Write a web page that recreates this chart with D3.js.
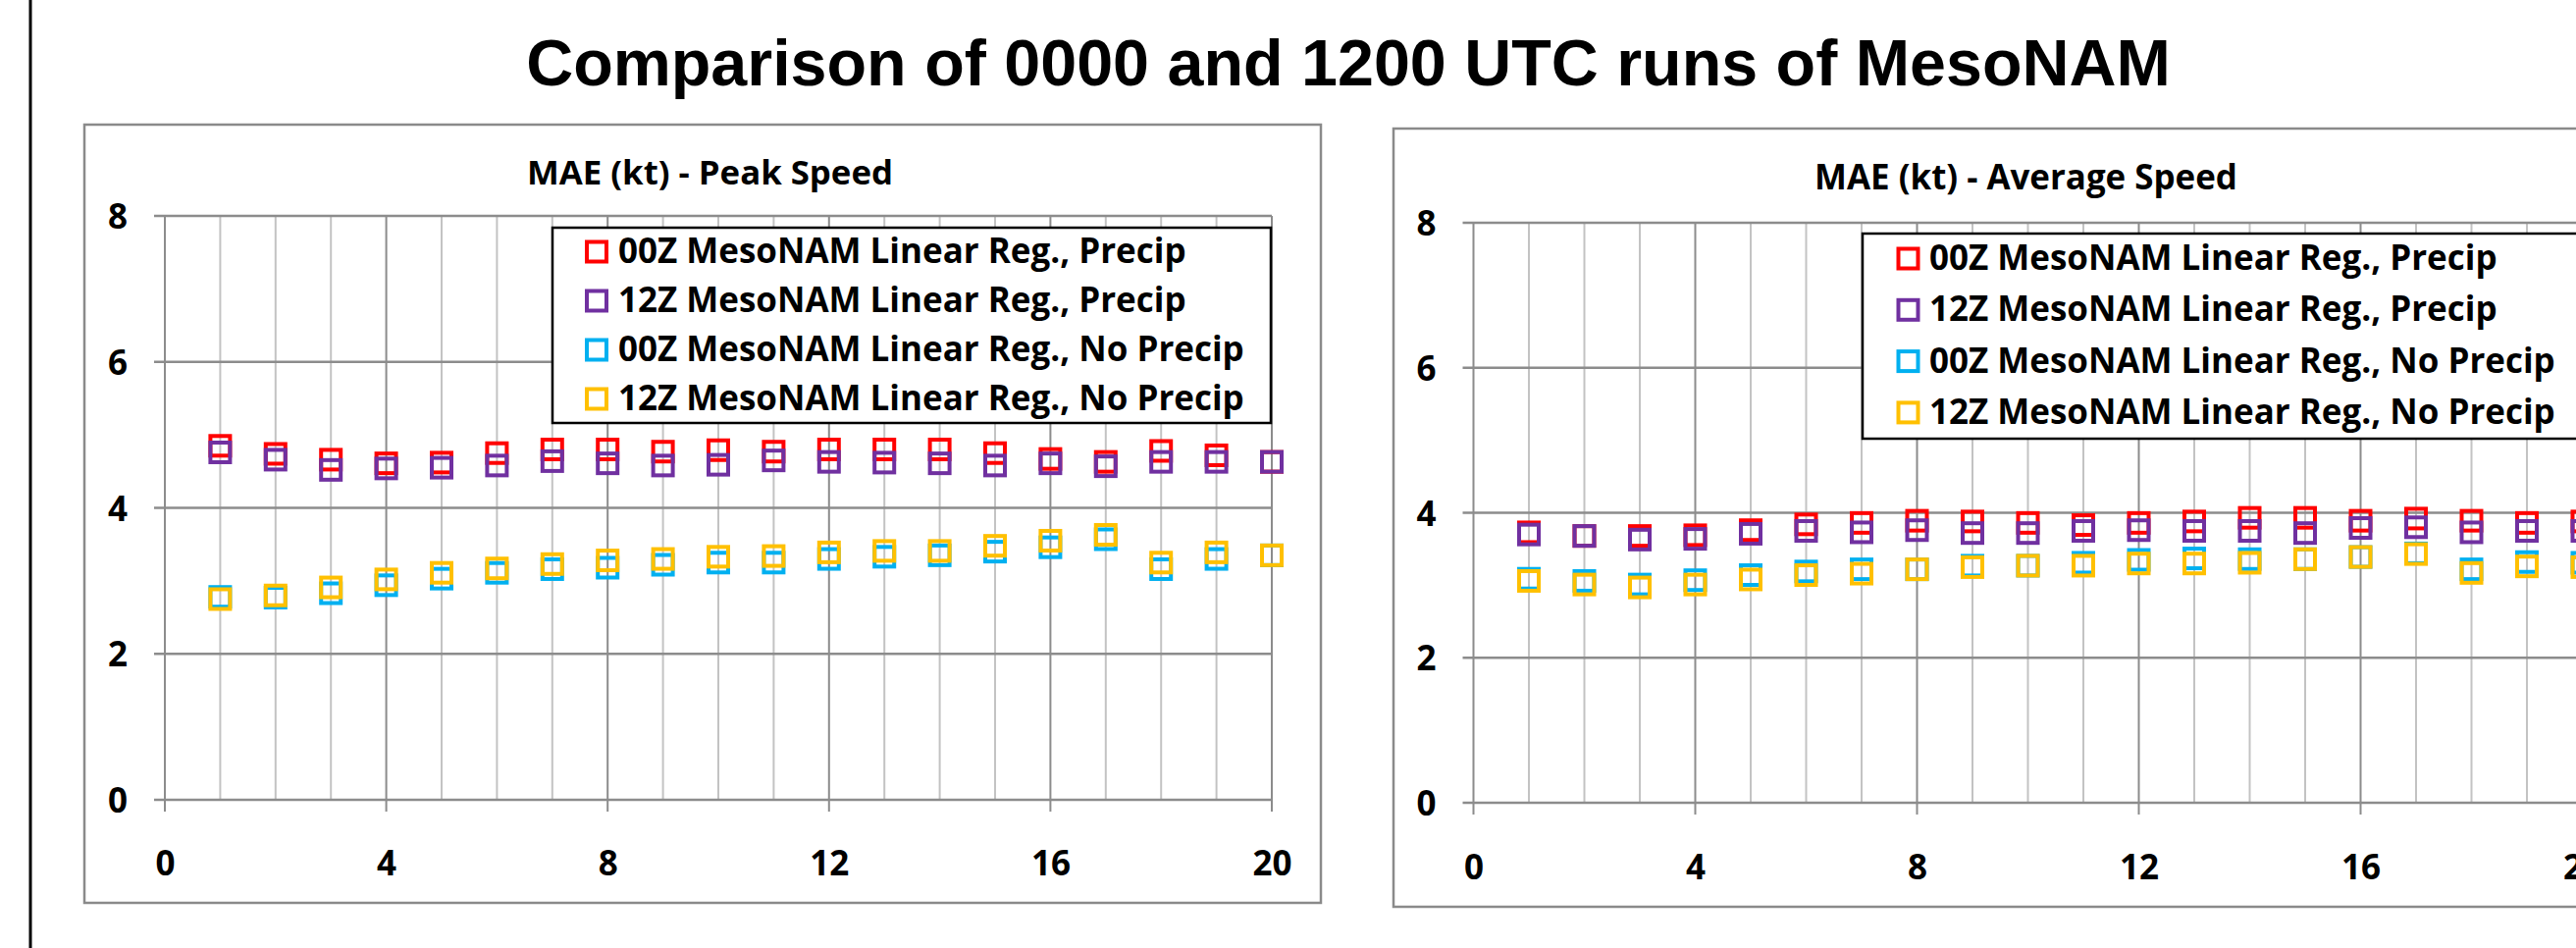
<!DOCTYPE html>
<html><head><meta charset="utf-8">
<script src="https://cdn.jsdelivr.net/npm/d3@7/dist/d3.min.js"></script>
<style>html,body{margin:0;padding:0;background:#fff;overflow:hidden}svg{display:block}</style>
</head><body>
<svg id="c" width="2625" height="966"></svg>
<script>
// ---------------- data ----------------
const mainTitle = "Comparison of 0000 and 1200 UTC runs of MesoNAM";
const chartTitles = ["MAE (kt) - Peak Speed", "MAE (kt) - Average Speed"];
const seriesNames = [
  "00Z MesoNAM Linear Reg., Precip",
  "12Z MesoNAM Linear Reg., Precip",
  "00Z MesoNAM Linear Reg., No Precip",
  "12Z MesoNAM Linear Reg., No Precip"
];
const seriesColors = ["#FF0000", "#7030A0", "#00B0F0", "#FFC000"];
const hours = [1,2,3,4,5,6,7,8,9,10,11,12,13,14,15,16,17,18,19,20];
const xTicks = [0,4,8,12,16,20];
const yTicks = [0,2,4,6,8];

// Peak speed MAE
const peak00zPrecip   = [4.85,4.74,4.66,4.61,4.62,4.75,4.80,4.80,4.77,4.79,4.77,4.80,4.80,4.80,4.75,4.67,4.63,4.78,4.72,4.63];
const peak12zPrecip   = [4.76,4.66,4.52,4.54,4.55,4.58,4.64,4.61,4.58,4.59,4.65,4.63,4.62,4.61,4.58,4.61,4.57,4.63,4.63,4.63];
const peak00zNoPrecip = [2.78,2.77,2.83,2.94,3.03,3.11,3.16,3.18,3.22,3.25,3.25,3.30,3.33,3.35,3.40,3.46,3.57,3.16,3.30,3.35];
const peak12zNoPrecip = [2.75,2.80,2.91,3.02,3.11,3.17,3.23,3.28,3.30,3.33,3.34,3.39,3.41,3.41,3.48,3.55,3.63,3.25,3.39,3.35];

// Average speed MAE
const avg00zPrecip    = [3.73,3.68,3.68,3.69,3.76,3.84,3.86,3.89,3.88,3.86,3.83,3.86,3.88,3.93,3.93,3.89,3.92,3.89,3.86,3.88];
const avg12zPrecip    = [3.70,3.68,3.63,3.64,3.71,3.75,3.73,3.76,3.72,3.72,3.75,3.76,3.75,3.75,3.72,3.79,3.80,3.73,3.75,3.75];
const avg00zNoPrecip  = [3.09,3.06,3.01,3.07,3.14,3.19,3.22,3.22,3.27,3.27,3.31,3.35,3.37,3.36,3.36,3.39,3.44,3.22,3.32,3.31];
const avg12zNoPrecip  = [3.06,3.01,2.97,3.01,3.08,3.14,3.16,3.22,3.25,3.27,3.27,3.30,3.30,3.31,3.36,3.39,3.43,3.17,3.26,3.25];

// ---------------- layout ----------------
const charts = [
  { title: chartTitles[0], series: [peak00zPrecip, peak12zPrecip, peak00zNoPrecip, peak12zNoPrecip],
    box: {x0: 86, y0: 127, x1: 1346, y1: 920},
    px: [168, 1296], py: [815, 220],
    titleX: 723.5, titleY: 188, titleW: 373,
    legend: {x0: 563, y0: 232, x1: 1295, y1: 431, mx: 608, tx: 630, base: 268, step: 50},
    xLabelOff: 77 },
  { title: chartTitles[1], series: [avg00zPrecip, avg12zPrecip, avg00zNoPrecip, avg12zNoPrecip],
    box: {x0: 1420, y0: 131, x1: 2700, y1: 924},
    px: [1501.5, 2631.5], py: [818, 227],
    titleX: 2064.5, titleY: 193, titleW: 431,
    legend: {x0: 1898, y0: 238, x1: 2700, y1: 447, mx: 1944.5, tx: 1966, base: 275, step: 52.3},
    xLabelOff: 78 }
];

const svg = d3.select("#c");
const CAL = "'Open Sans', 'Noto Sans', sans-serif";

function fitWidth(sel, w) {
  const len = sel.node().getComputedTextLength();
  const fs = parseFloat(sel.attr("font-size"));
  sel.attr("font-size", fs * w / len);
  return fs * w / len;
}

// left frame line
svg.append("line").attr("x1", 31).attr("x2", 31).attr("y1", 0).attr("y2", 966)
  .attr("stroke", "#000").attr("stroke-width", 3);

// main title
const mt = svg.append("text").attr("x", 1374).attr("y", 87)
  .attr("text-anchor", "middle")
  .attr("font-family", "'Liberation Sans', Arial, sans-serif")
  .attr("font-weight", "bold").attr("font-size", 70).text(mainTitle);
fitWidth(mt, 1676);

charts.forEach(cfg => {
  const g = svg.append("g");
  const x = d3.scaleLinear().domain([0, 20]).range(cfg.px);
  const y = d3.scaleLinear().domain([0, 8]).range(cfg.py);

  // chart area box
  g.append("rect")
    .attr("x", cfg.box.x0).attr("y", cfg.box.y0)
    .attr("width", cfg.box.x1 - cfg.box.x0).attr("height", cfg.box.y1 - cfg.box.y0)
    .attr("fill", "#fff").attr("stroke", "#8a8a8a").attr("stroke-width", 2.5);

  // chart title
  const t = g.append("text").attr("x", cfg.titleX).attr("y", cfg.titleY)
    .attr("text-anchor", "middle").attr("font-family", CAL).attr("font-weight", "bold")
    .attr("font-size", 30).attr("fill", "#000").text(cfg.title);
  fitWidth(t, cfg.titleW);

  // minor vertical gridlines (each hour)
  const vgrid = [0].concat(hours);
  g.selectAll(".vminor").data(vgrid.filter(d => d % 4 !== 0)).enter().append("line")
    .attr("x1", d => x(d)).attr("x2", d => x(d))
    .attr("y1", y(8)).attr("y2", y(0))
    .attr("stroke", "#c3c3c3").attr("stroke-width", 2);
  // major vertical gridlines, extended as ticks
  g.selectAll(".vmajor").data(xTicks).enter().append("line")
    .attr("x1", d => x(d)).attr("x2", d => x(d))
    .attr("y1", y(8)).attr("y2", y(0) + 12)
    .attr("stroke", "#8c8c8c").attr("stroke-width", 2);
  // horizontal gridlines, extended as ticks
  g.selectAll(".hgrid").data(yTicks).enter().append("line")
    .attr("x1", x(0) - 11).attr("x2", x(20))
    .attr("y1", d => y(d)).attr("y2", d => y(d))
    .attr("stroke", "#8c8c8c").attr("stroke-width", 2.5);

  // axes labels via d3 axes
  const xa = g.append("g").attr("transform", `translate(0,${y(0)})`)
    .call(d3.axisBottom(x).tickValues(xTicks).tickSize(0).tickFormat(d3.format("d")));
  xa.select(".domain").remove();
  xa.selectAll("text").attr("y", cfg.xLabelOff).attr("dy", 0)
    .attr("font-family", CAL).attr("font-weight", "bold").attr("font-size", 35).attr("fill", "#000");

  const ya = g.append("g").attr("transform", `translate(${x(0)},0)`)
    .call(d3.axisLeft(y).tickValues(yTicks).tickSize(0).tickPadding(38).tickFormat(d3.format("d")));
  ya.select(".domain").remove();
  ya.selectAll("text").attr("dy", "0.36em")
    .attr("font-family", CAL).attr("font-weight", "bold").attr("font-size", 35).attr("fill", "#000");

  // legend box (drawn before markers? markers are below the legend, so order doesn't matter)
  const L = cfg.legend;
  g.append("rect").attr("x", L.x0).attr("y", L.y0)
    .attr("width", L.x1 - L.x0).attr("height", L.y1 - L.y0)
    .attr("fill", "#fff").attr("stroke", "#000").attr("stroke-width", 2.5);

  let legendFont = 30;
  const texts = [];
  seriesNames.forEach((name, i) => {
    const by = L.base + i * L.step;
    g.append("rect").attr("x", L.mx - 10).attr("y", by - 11.5 - 10)
      .attr("width", 20).attr("height", 20)
      .attr("fill", "none").attr("stroke", seriesColors[i]).attr("stroke-width", 4);
    const tx = g.append("text").attr("x", L.tx).attr("y", by)
      .attr("font-family", CAL).attr("font-weight", "bold").attr("font-size", 30)
      .attr("fill", "#000").text(name);
    texts.push(tx);
  });
  legendFont = fitWidth(texts[2], 638);
  texts.forEach(tx => tx.attr("font-size", legendFont));

  // markers
  cfg.series.forEach((vals, si) => {
    g.append("g").selectAll("rect").data(hours.map((h, i) => [h, vals[i]])).enter()
      .append("rect")
      .attr("x", d => x(d[0]) - 10).attr("y", d => y(d[1]) - 10)
      .attr("width", 20).attr("height", 20)
      .attr("fill", "none").attr("stroke", seriesColors[si]).attr("stroke-width", 4);
  });
});
</script>
</body></html>
